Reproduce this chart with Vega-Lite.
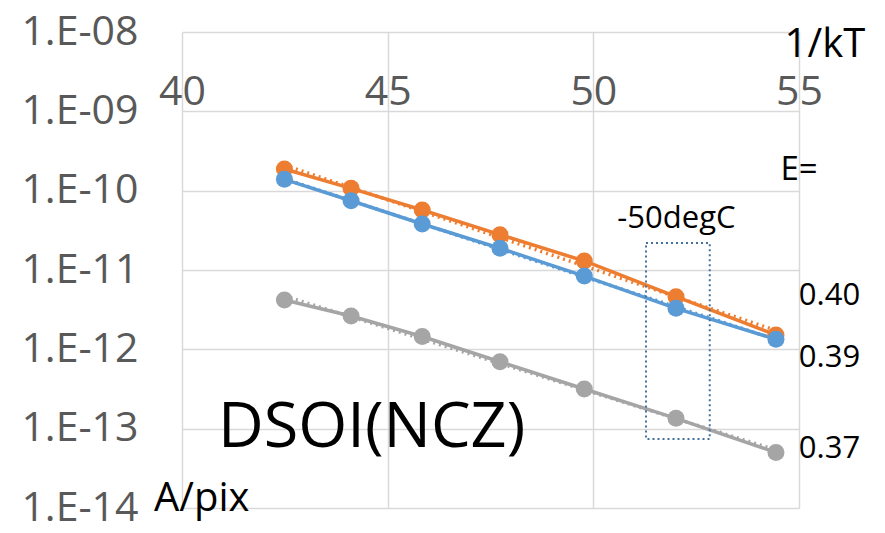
{
  "$schema": "https://vega.github.io/schema/vega-lite/v6.json",
  "width": 617,
  "height": 476,
  "autosize": {"type": "none"},
  "padding": {"left": 182, "top": 32, "right": 86, "bottom": 25},
  "background": "white",
  "config": {"view": {"stroke": null}, "font": "Open Sans"},
  "datasets": {
    "series": [
      {"series": "E=0.40", "x": 42.49, "y": 1.875e-10},
      {"series": "E=0.40", "x": 44.11, "y": 1.07e-10},
      {"series": "E=0.40", "x": 45.84, "y": 5.70e-11},
      {"series": "E=0.40", "x": 47.73, "y": 2.79e-11},
      {"series": "E=0.40", "x": 49.78, "y": 1.30e-11},
      {"series": "E=0.40", "x": 52.01, "y": 4.61e-12},
      {"series": "E=0.40", "x": 54.44, "y": 1.52e-12},
      {"series": "E=0.39", "x": 42.49, "y": 1.39e-10},
      {"series": "E=0.39", "x": 44.11, "y": 7.46e-11},
      {"series": "E=0.39", "x": 45.84, "y": 3.80e-11},
      {"series": "E=0.39", "x": 47.73, "y": 1.88e-11},
      {"series": "E=0.39", "x": 49.78, "y": 8.39e-12},
      {"series": "E=0.39", "x": 52.01, "y": 3.29e-12},
      {"series": "E=0.39", "x": 54.44, "y": 1.34e-12},
      {"series": "E=0.37", "x": 42.49, "y": 4.19e-12},
      {"series": "E=0.37", "x": 44.11, "y": 2.63e-12},
      {"series": "E=0.37", "x": 45.84, "y": 1.45e-12},
      {"series": "E=0.37", "x": 47.73, "y": 6.98e-13},
      {"series": "E=0.37", "x": 49.78, "y": 3.16e-13},
      {"series": "E=0.37", "x": 52.01, "y": 1.35e-13},
      {"series": "E=0.37", "x": 54.44, "y": 5.02e-14}
    ],
    "trend": [
      {"series": "E=0.40", "x": 42.49, "y": 2.10e-10},
      {"series": "E=0.40", "x": 54.44, "y": 1.73e-12},
      {"series": "E=0.39", "x": 42.49, "y": 1.41e-10},
      {"series": "E=0.39", "x": 54.44, "y": 1.33e-12},
      {"series": "E=0.37", "x": 42.49, "y": 4.71e-12},
      {"series": "E=0.37", "x": 54.44, "y": 5.39e-14}
    ]
  },
  "layer": [
    {
      "data": {"name": "trend"},
      "mark": {"type": "line", "strokeWidth": 3.5, "strokeDash": [2, 4], "clip": false},
      "encoding": {
        "x": {
          "field": "x", "type": "quantitative",
          "scale": {"domain": [40, 55], "nice": false, "zero": false},
          "axis": {
            "orient": "top", "offset": -79, "values": [40, 45, 50, 55],
            "title": null, "domain": false, "ticks": false, "labelPadding": -2,
            "labelFontSize": 41, "labelColor": "#595959", "labelFont": "Open Sans",
            "grid": true, "gridColor": "#D9D9D9", "gridWidth": 1.5, "labelFlush": false
          }
        },
        "y": {
          "field": "y", "type": "quantitative",
          "scale": {"type": "log", "domain": [1e-14, 1e-8], "nice": false},
          "axis": {
            "values": [1e-14, 1e-13, 1e-12, 1e-11, 1e-10, 1e-9, 1e-8],
            "labelExpr": "'1.E-' + (abs(round(log(datum.value)/LN10)) < 10 ? '0' : '') + abs(round(log(datum.value)/LN10))",
            "title": null, "domain": false, "ticks": false, "labelPadding": 44,
            "labelFontSize": 41, "labelColor": "#595959", "labelFont": "Open Sans",
            "grid": true, "gridColor": "#D9D9D9", "gridWidth": 1.5, "labelFlush": false
          }
        },
        "color": {
          "field": "series", "type": "nominal",
          "scale": {"domain": ["E=0.40", "E=0.39", "E=0.37"], "range": ["#ED7D31", "#5B9BD5", "#A5A5A5"]},
          "legend": null
        }
      }
    },
    {
      "data": {"name": "series"},
      "mark": {"type": "line", "strokeWidth": 3.5, "point": {"filled": true, "size": 290, "opacity": 1}, "clip": false},
      "encoding": {
        "x": {"field": "x", "type": "quantitative"},
        "y": {"field": "y", "type": "quantitative"},
        "color": {"field": "series", "type": "nominal", "legend": null}
      }
    },
    {
      "data": {"values": [{"x1": 51.28, "x2": 52.83, "y1": 2.19e-11, "y2": 7.41e-14}]},
      "mark": {"type": "rect", "fill": null, "fillOpacity": 0, "stroke": "#41719C", "strokeWidth": 2, "strokeDash": [2, 3]},
      "encoding": {
        "x": {"field": "x1", "type": "quantitative"},
        "x2": {"field": "x2"},
        "y": {"field": "y1", "type": "quantitative"},
        "y2": {"field": "y2"}
      }
    },
    {
      "data": {"values": [
        {"label": "1/kT", "x": 55.63, "y": 4.84e-9},
        {"label": "A/pix", "x": 40.48, "y": 9.2e-15}
      ]},
      "mark": {"type": "text", "fontSize": 40, "color": "black", "baseline": "alphabetic", "align": "center", "clip": false, "font": "Open Sans"},
      "encoding": {
        "x": {"field": "x", "type": "quantitative"},
        "y": {"field": "y", "type": "quantitative"},
        "text": {"field": "label"}
      }
    },
    {
      "data": {"values": [{"label": "E=", "x": 55.0, "y": 1.36e-10}]},
      "mark": {"type": "text", "fontSize": 33, "color": "black", "baseline": "alphabetic", "align": "center", "clip": false, "font": "Open Sans"},
      "encoding": {
        "x": {"field": "x", "type": "quantitative"},
        "y": {"field": "y", "type": "quantitative"},
        "text": {"field": "label"}
      }
    },
    {
      "data": {"values": [
        {"label": "0.40", "x": 55.74, "y": 3.6e-12},
        {"label": "0.39", "x": 55.74, "y": 5.98e-13},
        {"label": "0.37", "x": 55.74, "y": 4.27e-14},
        {"label": "-50degC", "x": 52.02, "y": 3.35e-11}
      ]},
      "mark": {"type": "text", "fontSize": 31, "color": "black", "baseline": "alphabetic", "align": "center", "clip": false, "font": "Open Sans"},
      "encoding": {
        "x": {"field": "x", "type": "quantitative"},
        "y": {"field": "y", "type": "quantitative"},
        "text": {"field": "label"}
      }
    },
    {
      "data": {"values": [{"label": "DSOI(NCZ)", "x": 44.61, "y": 5.87e-14}]},
      "mark": {"type": "text", "fontSize": 63, "color": "black", "baseline": "alphabetic", "align": "center", "clip": false, "font": "Open Sans"},
      "encoding": {
        "x": {"field": "x", "type": "quantitative"},
        "y": {"field": "y", "type": "quantitative"},
        "text": {"field": "label"}
      }
    }
  ]
}
